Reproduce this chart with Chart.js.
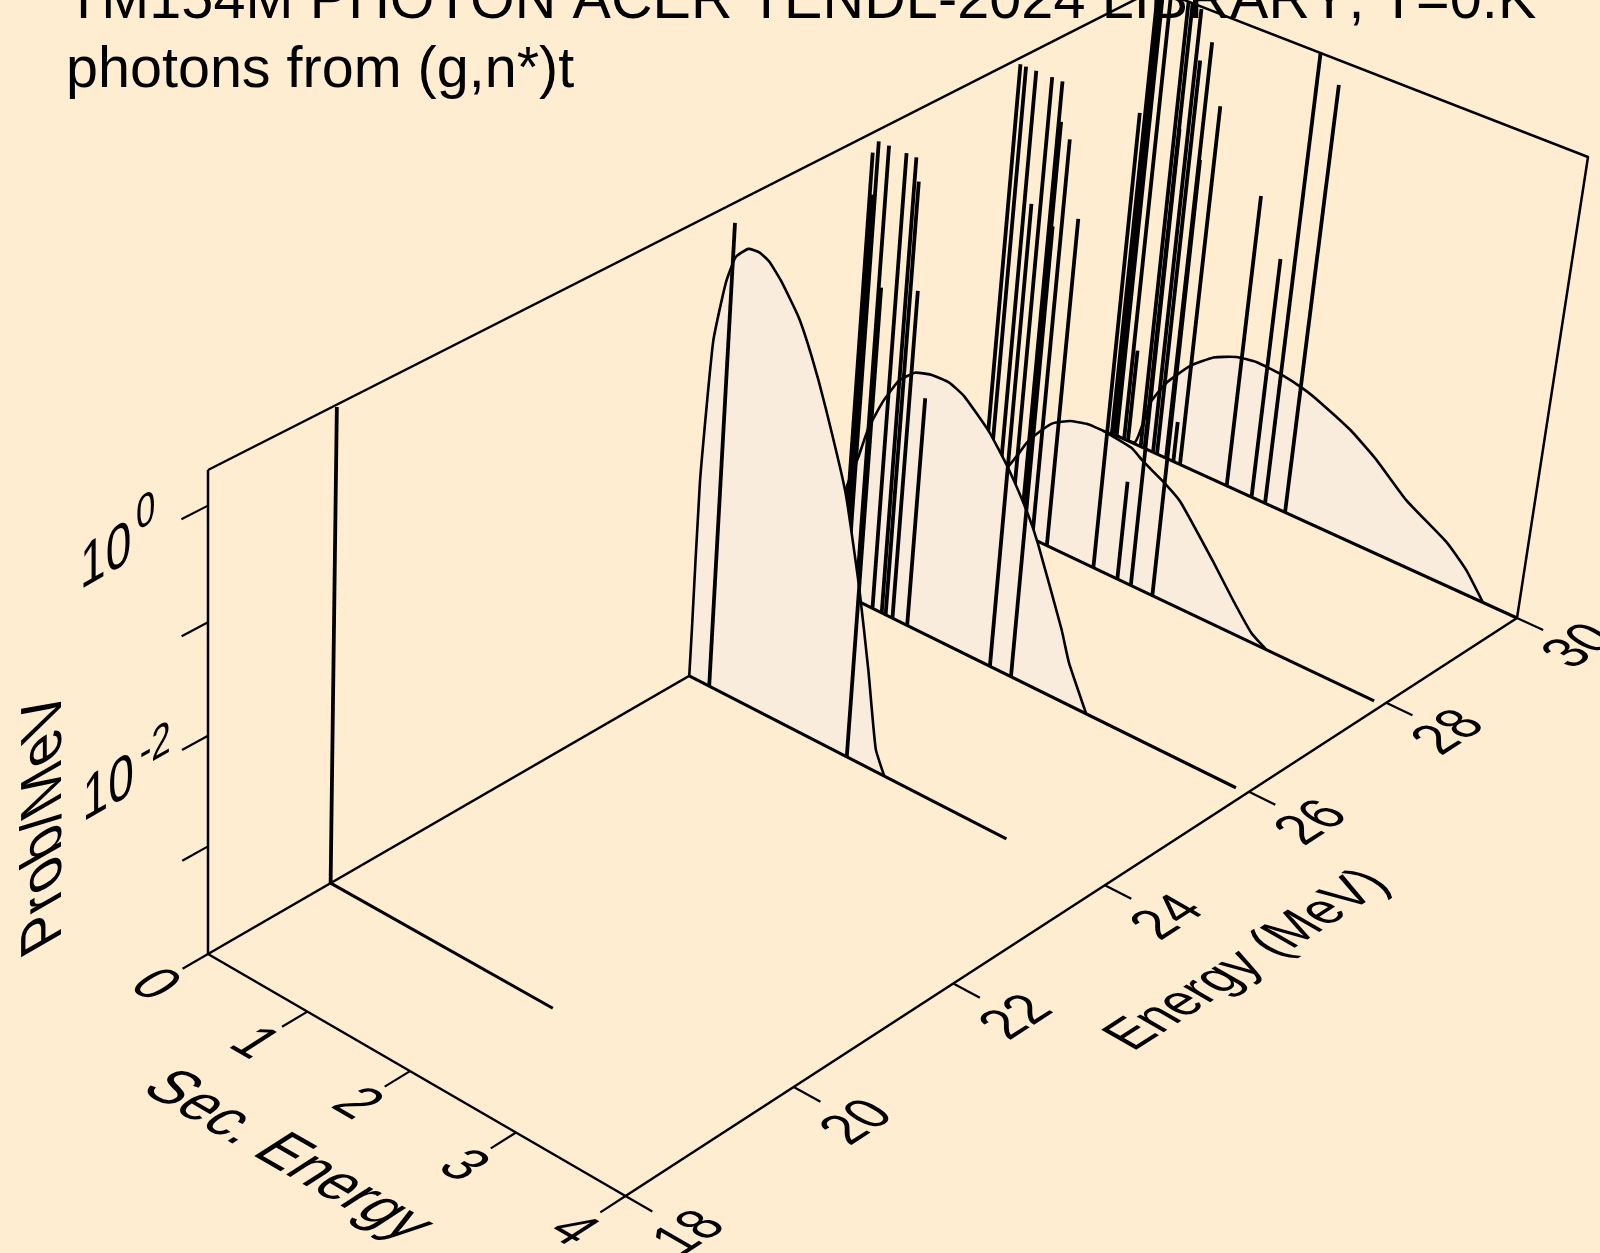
<!DOCTYPE html>
<html>
<head>
<meta charset="utf-8">
<title>TM154M photon spectra</title>
<script src="https://cdn.jsdelivr.net/npm/chart.js@4/dist/chart.umd.min.js"></script>
<style>
  html, body { margin: 0; padding: 0; background: #FFEDD2; overflow: hidden; }
  canvas { display: block; }
</style>
</head>
<body>
<canvas id="chart" width="1600" height="1253"></canvas>
<script>
const titleLines = ['TM154M PHOTON ACER TENDL-2024 LIBRARY, T=0.K', 'photons from (g,n*)t'];

// axis ranges and ticks
const energyRange = [18, 30];
const secRange = [0, 4];
const logProbRange = [-4, 0.3];
const energyTicks = [18, 20, 22, 24, 26, 28, 30];
const secTicks = [0, 1, 2, 3, 4];
const logProbTicks = [0, -1, -2, -3];
const logProbLabels = [[0, '0'], [-2, '-2']];

// incident energies, back to front
const energies = [30, 27.95, 25.97, 23.95, 19.43];

// continuum part: secondary energy (MeV) and log10(prob/MeV)
const curveSec30 = [0, 0.26, 0.367, 0.508, 0.717, 0.93, 1.149, 1.346, 1.578, 1.81, 1.974, 2.289, 2.558, 2.874, 3.29, 3.5, 3.685];
const curveLog30 = [-4, -3.98, -3.533, -3.268, -3.011, -2.835, -2.737, -2.703, -2.717, -2.762, -2.817, -2.952, -3.12, -3.37, -3.595, -3.773, -4];
const curveSec28 = [0, 0.2, 0.373, 0.458, 0.576, 0.697, 0.856, 1.018, 1.18, 1.463, 1.584, 1.792, 1.969, 2.33, 2.564, 2.758, 2.909];
const curveLog28 = [-4, -3.6, -3.28, -3.11, -2.946, -2.811, -2.72, -2.676, -2.671, -2.71, -2.785, -2.888, -3, -3.41, -3.695, -3.91, -4];
const curveSec26 = [0, 0.02, 0.12, 0.2, 0.32, 0.46, 0.61, 0.77, 0.94, 1.09, 1.35, 1.56, 1.78, 1.9, 2.19, 2.29, 2.494];
const curveLog26 = [-4, -3, -2.64, -2.32, -2.02, -1.76, -1.62, -1.572, -1.57, -1.63, -1.845, -2.095, -2.425, -2.655, -3.328, -3.607, -4];
const curveSec24 = [0, 0.002, 0.004, 0.06, 0.15, 0.231, 0.347, 0.454, 0.547, 0.67, 0.857, 1.002, 1.16, 1.4, 1.591, 1.734, 1.859, 1.958];
const curveLog24 = [-4, -3.545, -2.135, -0.816, -0.255, 0.008, 0.128, 0.139, 0.1, -0.02, -0.267, -0.556, -0.937, -1.602, -2.39, -3.1, -3.79, -4];
const curveSec19 = [];
const curveLog19 = [];

// discrete gamma lines
const lineSec30 = [0.02, 0.045, 0.07, 0.148, 0.188, 0.32, 0.36, 0.448, 0.489, 0.582, 0.657, 0.725, 1.2, 1.45, 1.585, 1.784];
const lineLog30 = [0.3, 0.3, 0.3, 0.3, -3.087, 0.3, 0.3, 0.28, -0.177, 0.025, -3.6, -0.512, -1.166, -1.662, 0.3, 0.087];
const lineSec28 = [0.07, 0.125, 0.225, 0.38, 0.48, 0.502, 0.599, 0.749, 1.22, 1.46, 1.594, 1.807];
const lineLog28 = [0.3, 0.3, 0.3, 0.3, 0.3, -0.056, -0.179, -0.849, 0.3, -3.04, 0.3, 0.108];
const lineSec26 = [0.05, 0.075, 0.1, 0.2, 0.37, 0.465, 0.505, 0.575, 0.725, 1.555, 1.763];
const lineLog26 = [0.16, -0.207, 0.28, 0.28, 0.28, 0.28, 0.08, -0.878, -1.809, 0.3, 0.186];
const lineSec24 = [0.206, 1.591];
const lineLog24 = [0.3, 0.3];
const lineSec19 = [0];
const lineLog19 = [0.28];

// how far the zero line runs along secondary energy
const baseEnds = [4, 3.92, 3.9, 3.125, 2.2];

const curveSecs = [curveSec30, curveSec28, curveSec26, curveSec24, curveSec19];
const curveLogs = [curveLog30, curveLog28, curveLog26, curveLog24, curveLog19];
const lineSecs = [lineSec30, lineSec28, lineSec26, lineSec24, lineSec19];
const lineLogs = [lineLog30, lineLog28, lineLog26, lineLog24, lineLog19];

const shade = '#FAECDC';
const ink = '#000000';

// camera: box corners on screen (E18/S0, E18/S4, E30/S4, E30/S0) plus perspective weights
const floorBox = [[208, 954], [625.5, 1196], [1517, 618], [1110, 432.6]];
const roofBox = [[208, 470], [652, 694.4], [1588, 157], [1156, -11]];
const weightSec = 0.9376;
const weightEnergy = 1.163;
const weightProb = 0.944;

function mapPlane(box, u, v, k) {
    const a = (1 - u) * (1 - v);
    const b = weightSec * u * (1 - v);
    const c = weightSec * weightEnergy * u * v;
    const d = weightEnergy * (1 - u) * v;
    return (box[0][k] * a + box[1][k] * b + box[2][k] * c + box[3][k] * d) / (a + b + c + d);
}

function project(energy, sec, logProb) {
    const u = (sec - secRange[0]) / (secRange[1] - secRange[0]);
    const v = (energy - energyRange[0]) / (energyRange[1] - energyRange[0]);
    const z = (logProb - logProbRange[0]) / (logProbRange[1] - logProbRange[0]);
    const w = weightProb * z;
    return {
        x: (mapPlane(floorBox, u, v, 0) * (1 - z) + mapPlane(roofBox, u, v, 0) * w) / (1 - z + w),
        y: (mapPlane(floorBox, u, v, 1) * (1 - z) + mapPlane(roofBox, u, v, 1) * w) / (1 - z + w)
    };
}

const datasets = [];
function addPath(points, width, fill) {
    datasets.push({
        data: points,
        showLine: true,
        pointRadius: 0,
        borderColor: ink,
        borderWidth: width,
        borderCapStyle: 'butt',
        borderJoinStyle: 'round',
        backgroundColor: shade,
        fill: fill ? 'shape' : false,
        tension: fill ? 0.15 : 0,
        clip: false,
        order: 1000 - datasets.length
    });
}

const eMin = energyRange[0], eMax = energyRange[1];
const sMin = secRange[0], sMax = secRange[1];
const zMin = logProbRange[0], zMax = logProbRange[1];

// box first so the spectra cover it
addPath([project(eMin, sMin, zMax), project(eMin, sMin, zMin), project(eMin, sMax, zMin), project(eMax, sMax, zMin), project(eMax, sMax, zMax), project(eMax, sMin, zMax), project(eMin, sMin, zMax)], 2.5, false);
addPath([project(eMin, sMin, zMin), project(eMax, sMin, zMin)], 2.5, false);

energyTicks.forEach(e => addPath([project(e, sMax, zMin), project(e, sMax + 0.24, zMin)], 2.2, false));
secTicks.forEach(s => addPath([project(eMin, s, zMin), project(eMin - 0.29, s, zMin)], 2.2, false));
logProbTicks.forEach(p => addPath([project(eMin, sMin, p), project(eMin - 0.29, sMin, p)], 2.2, false));

energies.forEach((e, i) => {
    if (curveSecs[i].length) {
        addPath(curveSecs[i].map((s, j) => project(e, s, curveLogs[i][j])), 2.6, true);
    }
    lineSecs[i].forEach((s, j) => addPath([project(e, s, zMin), project(e, s, lineLogs[i][j])], 3.8, false));
    addPath([project(e, sMin, zMin), project(e, baseEnds[i], zMin)], 3.1, false);
});

function skewText(chart, text, pos, along, up, size, dx, dy) {
    const ctx = chart.ctx;
    const px = chart.scales.x.getPixelForValue(pos.x);
    const py = chart.scales.y.getPixelForValue(pos.y);
    ctx.save();
    ctx.transform(along[0], along[1], -up[0] * 1.17, -up[1] * 1.17, px, py);
    ctx.font = size + 'px "Liberation Sans", Arial, sans-serif';
    ctx.fillStyle = ink;
    ctx.textAlign = 'center';
    ctx.textBaseline = 'middle';
    ctx.fillText(text, dx || 0, dy || 0);
    ctx.restore();
}

const labelPlugin = {
    id: 'labels3d',
    afterDraw(chart) {
        const ctx = chart.ctx;
        const alongE = [0.84, -0.54], alongS = [0.87, 0.5], alongWall = [0.87, -0.5];
        const upE = [-0.87, -0.5], upS = [0.84, -0.54], upWall = [0, -1];

        ctx.save();
        ctx.font = '57.5px "Liberation Sans", Arial, sans-serif';
        ctx.fontKerning = 'none';
        ctx.fillStyle = ink;
        ctx.textBaseline = 'alphabetic';
        ctx.letterSpacing = '0.12px';
        ctx.fillText(titleLines[0], 66, 18);
        ctx.letterSpacing = '0px';
        ctx.fillText(titleLines[1], 66, 87);
        ctx.restore();

        energyTicks.forEach(e => skewText(chart, String(e), project(e, sMax + 0.58, zMin), alongE, upE, 50));
        secTicks.forEach(s => skewText(chart, String(s), project(eMin - 0.62, s, zMin), alongS, upS, 52));
        skewText(chart, 'Energy (MeV)', project(23.98, 5.29, zMin), alongE, upE, 50);
        skewText(chart, 'Sec. Energy', project(16.52, 2.08, zMin), alongS, upS, 56);
        skewText(chart, 'Prob/MeV', project(16.22, sMin, -1.97), [0, -1], [-0.87, 0.5], 57);
        logProbLabels.forEach(l => {
            const anchor = project(16.9, sMin, l[0]);
            skewText(chart, '10', anchor, alongWall, upWall, 53);
            skewText(chart, l[1], anchor, alongWall, upWall, 40, l[1].length > 1 ? 54 : 46, l[1].length > 1 ? -14 : -19);
        });
    }
};

new Chart(document.getElementById('chart'), {
    type: 'scatter',
    data: { datasets: datasets },
    options: {
        responsive: false,
        animation: false,
        devicePixelRatio: 1,
        layout: { padding: 0 },
        plugins: {
            legend: { display: false },
            title: { display: false },
            tooltip: { enabled: false }
        },
        scales: {
            x: { type: 'linear', display: false, min: 0, max: 1600 },
            y: { type: 'linear', display: false, min: 0, max: 1253, reverse: true }
        }
    },
    plugins: [labelPlugin]
});
</script>
</body>
</html>
